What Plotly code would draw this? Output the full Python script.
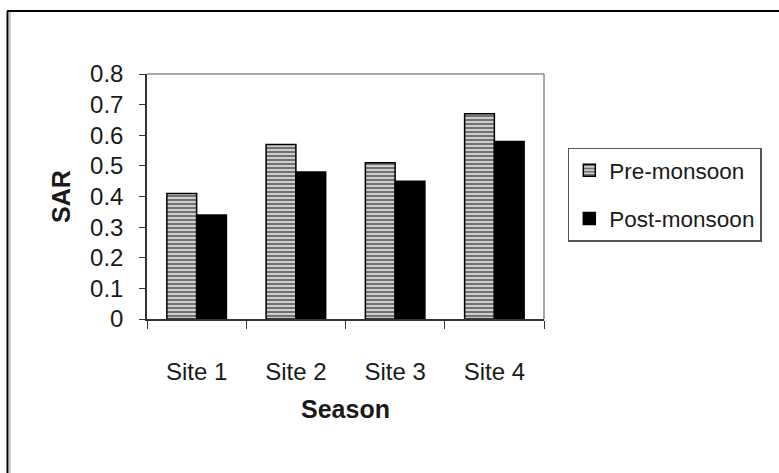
import plotly.graph_objects as go

categories = ["Site 1", "Site 2", "Site 3", "Site 4"]
pre_monsoon = [0.41, 0.57, 0.51, 0.67]
post_monsoon = [0.34, 0.48, 0.45, 0.58]
y_ticks = [0, 0.1, 0.2, 0.3, 0.4, 0.5, 0.6, 0.7, 0.8]

W, H = 779, 473
L, R, T, B = 147, 235, 74, 154
FONT = "Liberation Sans, Arial, sans-serif"
TXT = "#1a1a1a"

fig = go.Figure()
fig.add_trace(go.Bar(
    x=categories, y=pre_monsoon, name="Pre-monsoon", legendgroup="a",
    marker=dict(color="#e6e6e6", line=dict(color="black", width=1.5),
                pattern=dict(shape="-", fgcolor="black", bgcolor="#e4e4e4", size=4, solidity=0.6)),
))
fig.add_trace(go.Bar(
    x=categories, y=post_monsoon, name="Post-monsoon", legendgroup="b",
    marker=dict(color="black", line=dict(color="black", width=1.5)),
))

fig.update_layout(
    width=W, height=H,
    margin=dict(l=L, r=R, t=T, b=B, autoexpand=False),
    paper_bgcolor="white", plot_bgcolor="white",
    barmode="group", bargap=0.4, bargroupgap=0,
    font=dict(family=FONT, size=24, color=TXT),
    legend=dict(x=1.06, xanchor="left", y=0.70, yanchor="top",
                bordercolor="#555", borderwidth=1.5, bgcolor="white",
                traceorder="grouped", tracegroupgap=16,
                font=dict(size=22.5, color=TXT)),
    xaxis=dict(
        showline=True, linecolor="#333", linewidth=1.5,
        ticks="outside", tickson="boundaries", ticklen=8, tickcolor="#333",
        tickfont=dict(size=24), ticklabelstandoff=30,
        title=dict(text="<b>Season</b>", font=dict(size=25), standoff=17),
    ),
    yaxis=dict(
        range=[0, 0.8], tickvals=y_ticks, ticktext=[f"{v:g}" for v in y_ticks],
        showline=True, linecolor="#333", linewidth=1.5, showgrid=False, zeroline=False,
        ticks="outside", ticklen=6, tickcolor="#333",
        tickfont=dict(size=24), ticklabelstandoff=11,
        title=dict(text="<b>SAR</b>", font=dict(size=25), standoff=12),
    ),
)

# gray frame on top and right of the plot area
fig.add_shape(type="line", xref="paper", yref="paper", x0=0, x1=1, y0=1, y1=1,
              line=dict(color="#8a8a8a", width=1.5))
fig.add_shape(type="line", xref="paper", yref="paper", x0=1, x1=1, y0=0, y1=1,
              line=dict(color="#8a8a8a", width=1.5))

# outer picture frame (top and left edge)
pw, ph = W - L - R, H - T - B
def px(x):
    return (x - L) / pw
def py(y):
    return (H - B - y) / ph
fig.add_shape(type="line", xref="paper", yref="paper", x0=px(7), x1=px(779), y0=py(11), y1=py(11),
              line=dict(color="black", width=2))
fig.add_shape(type="line", xref="paper", yref="paper", x0=px(7.5), x1=px(7.5), y0=py(11), y1=py(473),
              line=dict(color="black", width=2))
fig.add_shape(type="line", xref="paper", yref="paper", x0=px(10), x1=px(10), y0=py(12), y1=py(473),
              line=dict(color="#999", width=1))

fig.write_html("out.html", config={"displayModeBar": False},
               post_script="document.body.style.margin='0';document.body.style.overflow='hidden';")
